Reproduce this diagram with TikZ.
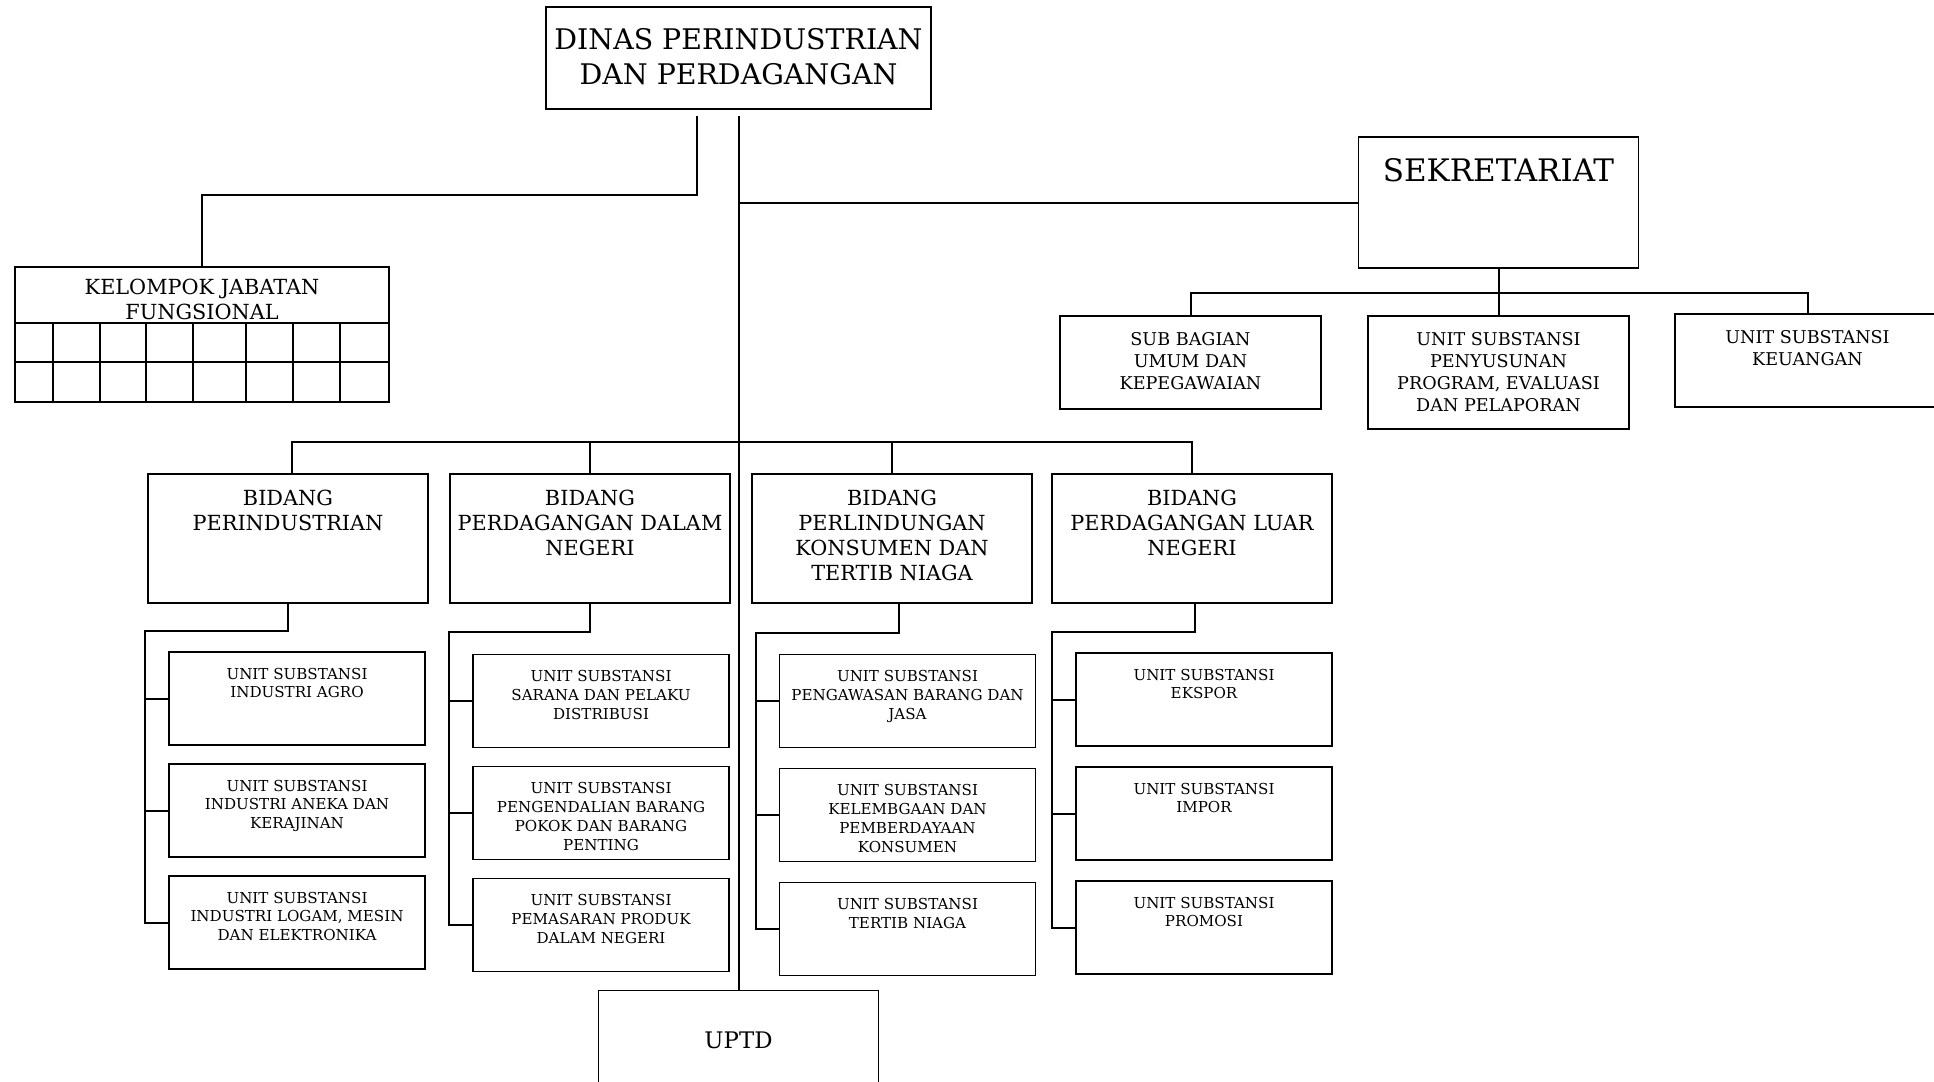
\documentclass[tikz,border=0pt]{standalone}
\usepackage{fontspec}
\setmainfont{DejaVu Serif}
\usetikzlibrary{positioning,calc}

\tikzset{
  box/.style={rectangle, draw, line width=0.9pt, inner sep=0pt, outer sep=0pt},
  bidbox/.style={box, minimum width=140pt, minimum height=64.5pt},
  unitbox/.style={box, minimum width=128pt, minimum height=46.5pt},
  subbox/.style={box, minimum width=130.5pt, minimum height=46.5pt},
  txt/.style={inner sep=0pt, align=center},
  bigtxt/.style={txt, font=\fontsize{14.2}{17.5}\selectfont},
  bidtxt/.style={txt, font=\fontsize{10.4}{12.5}\selectfont},
  subtxt/.style={txt, font=\fontsize{8.8}{11}\selectfont},
  unittxt/.style={txt, font=\fontsize{7.55}{9.45}\selectfont},
  conn/.style={line width=1pt},
  cell/.style={line width=0.9pt}
}

\begin{document}
\begin{tikzpicture}[x=0.5pt, y=-0.5pt]
    \useasboundingbox (0,0) rectangle (1934,1082);

    % Kepala Dinas
    \node[box, minimum width=192.5pt, minimum height=51pt] (dinas) at (738.5,58) {};
    \node[bigtxt, below=10.5pt of dinas.north] (dinas-t) {DINAS PERINDUSTRIAN\\DAN PERDAGANGAN};

    % Sekretariat
    \node[box, minimum width=140pt, minimum height=65.5pt] (sek) at (1498.5,202.5) {};
    \node[bigtxt, font=\fontsize{15.5}{18}\selectfont, below=10.3pt of sek.north] (sek-t) {SEKRETARIAT};
    \node[subbox] (umum) at (1190.5,362.5) {};
    \node[subbox, minimum height=56.5pt] (prog) at (1498.5,372.5) {};
    \node[subbox, minimum width=132.5pt] (keu) at (1807.5,360.5) {};
    \node[subtxt, below=8pt of umum.north] (umum-t) {SUB BAGIAN\\UMUM DAN\\KEPEGAWAIAN};
    \node[subtxt, below=8pt of prog.north] (prog-t) {UNIT SUBSTANSI\\PENYUSUNAN\\PROGRAM, EVALUASI\\DAN PELAPORAN};
    \node[subtxt, below=8pt of keu.north] (keu-t) {UNIT SUBSTANSI\\KEUANGAN};

    % Kelompok Jabatan Fungsional
    \node[box, minimum width=187pt, minimum height=67.5pt] (kjf) at (202,334.5) {};
    \node[bidtxt, below=6pt of kjf.north] (kjf-t) {KELOMPOK JABATAN\\FUNGSIONAL};
    \draw[cell] (15,323) -- (389,323) (15,362) -- (389,362);
    \foreach \x in {53,100,146,193,246,293,340}
        \draw[cell] (\x,323) -- (\x,402);

    % Bidang
    \node[bidbox] (ind) at (288,538.5) {};
    \node[bidbox, right=11pt of ind] (pdn) {};
    \node[bidbox, right=11pt of pdn] (pk) {};
    \node[bidbox, right=10pt of pk] (pln) {};
    \node[bidtxt, below=7.8pt of ind.north] (ind-t) {BIDANG\\PERINDUSTRIAN};
    \node[bidtxt, below=7.8pt of pdn.north] (pdn-t) {BIDANG\\PERDAGANGAN DALAM\\NEGERI};
    \node[bidtxt, below=7.8pt of pk.north] (pk-t) {BIDANG\\PERLINDUNGAN\\KONSUMEN DAN\\TERTIB NIAGA};
    \node[bidtxt, below=7.8pt of pln.north] (pln-t) {BIDANG\\PERDAGANGAN LUAR\\NEGERI};

    % Unit Substansi Perindustrian
    \node[unitbox] (ind1) at (297,698.5) {};
    \node[unitbox, below=9.5pt of ind1] (ind2) {};
    \node[unitbox, below=9.5pt of ind2] (ind3) {};
    \node[unittxt, below=7.7pt of ind1.north] (ind1-t) {UNIT SUBSTANSI\\INDUSTRI AGRO};
    \node[unittxt, below=7.7pt of ind2.north] (ind2-t) {UNIT SUBSTANSI\\INDUSTRI ANEKA DAN\\KERAJINAN};
    \node[unittxt, below=7.7pt of ind3.north] (ind3-t) {UNIT SUBSTANSI\\INDUSTRI LOGAM, MESIN\\DAN ELEKTRONIKA};

    % Unit Substansi Perdagangan Dalam Negeri
    \node[unitbox] (pdn1) at (601,701) {};
    \node[unitbox, below=9.5pt of pdn1] (pdn2) {};
    \node[unitbox, below=9.5pt of pdn2] (pdn3) {};
    \node[unittxt, below=7.7pt of pdn1.north] (pdn1-t) {UNIT SUBSTANSI\\SARANA DAN PELAKU\\DISTRIBUSI};
    \node[unittxt, below=7.7pt of pdn2.north] (pdn2-t) {UNIT SUBSTANSI\\PENGENDALIAN BARANG\\POKOK DAN BARANG\\PENTING};
    \node[unittxt, below=7.7pt of pdn3.north] (pdn3-t) {UNIT SUBSTANSI\\PEMASARAN PRODUK\\DALAM NEGERI};

    % Unit Substansi Perlindungan Konsumen
    \node[unitbox] (pk1) at (907.5,701) {};
    \node[unitbox, below=10.5pt of pk1] (pk2) {};
    \node[unitbox, below=10.5pt of pk2] (pk3) {};
    \node[unittxt, below=7.7pt of pk1.north] (pk1-t) {UNIT SUBSTANSI\\PENGAWASAN BARANG DAN\\JASA};
    \node[unittxt, below=7.7pt of pk2.north] (pk2-t) {UNIT SUBSTANSI\\KELEMBGAAN DAN\\PEMBERDAYAAN\\KONSUMEN};
    \node[unittxt, below=7.7pt of pk3.north] (pk3-t) {UNIT SUBSTANSI\\TERTIB NIAGA};

    % Unit Substansi Perdagangan Luar Negeri
    \node[unitbox] (pln1) at (1204,699.5) {};
    \node[unitbox, below=10.5pt of pln1] (pln2) {};
    \node[unitbox, below=10.5pt of pln2] (pln3) {};
    \node[unittxt, below=7.7pt of pln1.north] (pln1-t) {UNIT SUBSTANSI\\EKSPOR};
    \node[unittxt, below=7.7pt of pln2.north] (pln2-t) {UNIT SUBSTANSI\\IMPOR};
    \node[unittxt, below=7.7pt of pln3.north] (pln3-t) {UNIT SUBSTANSI\\PROMOSI};

    % UPTD
    \node[bidbox] (uptd) at (738.5,1055) {};
    \node[bidtxt, font=\fontsize{11.4}{13}\selectfont, below=20.3pt of uptd.north] (uptd-t) {UPTD};

    % Garis
    \coordinate (trunk) at ($(dinas.south)+(0,7)$);
    \draw[conn] (trunk) -- (uptd.north);
    \draw[conn] ($(dinas.south)+(-41.5,7)$) |- ($(kjf.north)+(0,-72)$) -- (kjf.north);
    \draw[conn] (trunk |- sek.west) -- (sek.west);
    \draw[conn] (sek.south) -- (prog.north);
    \draw[conn] (umum.north) -- ++(0,-23) -| (keu.north);
    \draw[conn] ($(ind.north)+(4,0)$) -- ++(0,-32) -| (pln.north);
    \draw[conn] (pdn.north) -- ++(0,-32);
    \draw[conn] (pk.north) -- ++(0,-32);

    \draw[conn] (ind.south) -- ++(0,28) -| ($(ind3.west)+(-24,0)$) -- (ind3.west);
    \draw[conn] ($(ind1.west)+(-24,0)$) -- (ind1.west);
    \draw[conn] ($(ind2.west)+(-24,0)$) -- (ind2.west);
    \draw[conn] (pdn.south) -- ++(0,29) -| ($(pdn3.west)+(-24,0)$) -- (pdn3.west);
    \draw[conn] ($(pdn1.west)+(-24,0)$) -- (pdn1.west);
    \draw[conn] ($(pdn2.west)+(-24,0)$) -- (pdn2.west);
    \draw[conn] ($(pk.south)+(7,0)$) -- ++(0,30) -| ($(pk3.west)+(-24,0)$) -- (pk3.west);
    \draw[conn] ($(pk1.west)+(-24,0)$) -- (pk1.west);
    \draw[conn] ($(pk2.west)+(-24,0)$) -- (pk2.west);
    \draw[conn] ($(pln.south)+(3,0)$) -- ++(0,29) -| ($(pln3.west)+(-24,0)$) -- (pln3.west);
    \draw[conn] ($(pln1.west)+(-24,0)$) -- (pln1.west);
    \draw[conn] ($(pln2.west)+(-24,0)$) -- (pln2.west);
\end{tikzpicture}
\end{document}
